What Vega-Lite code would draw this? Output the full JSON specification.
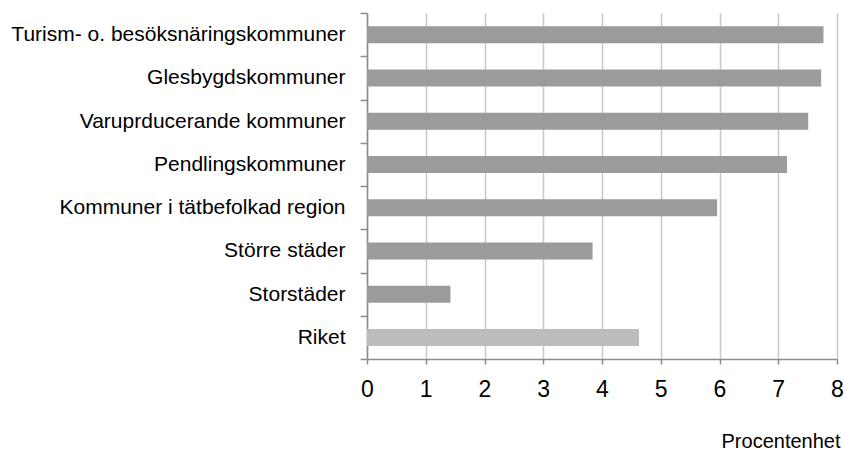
{
  "$schema": "https://vega.github.io/schema/vega-lite/v6.json",
  "width": 470,
  "height": 346,
  "autosize": "none",
  "padding": {"left": 367, "top": 13, "right": 7, "bottom": 91},
  "background": "white",
  "config": {"view": {"stroke": null}},
  "data": {
    "values": [
      {"kategori": "Turism- o. besöksnäringskommuner", "varde": 7.77, "grupp": "kommun"},
      {"kategori": "Glesbygdskommuner", "varde": 7.73, "grupp": "kommun"},
      {"kategori": "Varuprducerande kommuner", "varde": 7.51, "grupp": "kommun"},
      {"kategori": "Pendlingskommuner", "varde": 7.15, "grupp": "kommun"},
      {"kategori": "Kommuner i tätbefolkad region", "varde": 5.96, "grupp": "kommun"},
      {"kategori": "Större städer", "varde": 3.84, "grupp": "kommun"},
      {"kategori": "Storstäder", "varde": 1.42, "grupp": "kommun"},
      {"kategori": "Riket", "varde": 4.63, "grupp": "riket"}
    ]
  },
  "mark": {"type": "bar", "size": 17},
  "encoding": {
    "y": {
      "field": "kategori",
      "type": "nominal",
      "sort": null,
      "scale": {"paddingInner": 0, "paddingOuter": 0},
      "axis": {
        "title": null,
        "tickBand": "extent",
        "domainColor": "#8c8c8c",
        "tickColor": "#8c8c8c",
        "domainWidth": 1.5,
        "tickWidth": 1.5,
        "tickSize": 7,
        "labelPadding": 15,
        "labelFont": "Liberation Sans Narrow, Arial Narrow, Liberation Sans, sans-serif",
        "labelFontSize": 21,
        "labelColor": "#000000",
        "labelLimit": 400,
        "grid": false
      }
    },
    "x": {
      "field": "varde",
      "type": "quantitative",
      "scale": {"domain": [0, 8], "nice": false},
      "axis": {
        "title": "Procentenhet",
        "titleFont": "Liberation Sans, Arial, sans-serif",
        "titleFontSize": 20,
        "titleFontWeight": "normal",
        "titleColor": "#000000",
        "titleAnchor": "end",
        "titleAlign": "right",
        "titleX": 473,
        "titleY": 88,
        "titleBaseline": "alphabetic",
        "values": [0, 1, 2, 3, 4, 5, 6, 7, 8],
        "labelOverlap": false,
        "grid": true,
        "gridColor": "#c8c8c8",
        "gridWidth": 1.5,
        "domainColor": "#8c8c8c",
        "tickColor": "#8c8c8c",
        "domainWidth": 1.5,
        "tickWidth": 1.5,
        "tickSize": 5,
        "labelPadding": 14,
        "labelFont": "Liberation Sans Narrow, Arial Narrow, Liberation Sans, sans-serif",
        "labelFontSize": 23,
        "labelColor": "#000000",
        "labelFlush": false
      }
    },
    "color": {
      "field": "grupp",
      "type": "nominal",
      "scale": {"domain": ["kommun", "riket"], "range": ["#9b9b9b", "#bcbcbc"]},
      "legend": null
    }
  }
}
